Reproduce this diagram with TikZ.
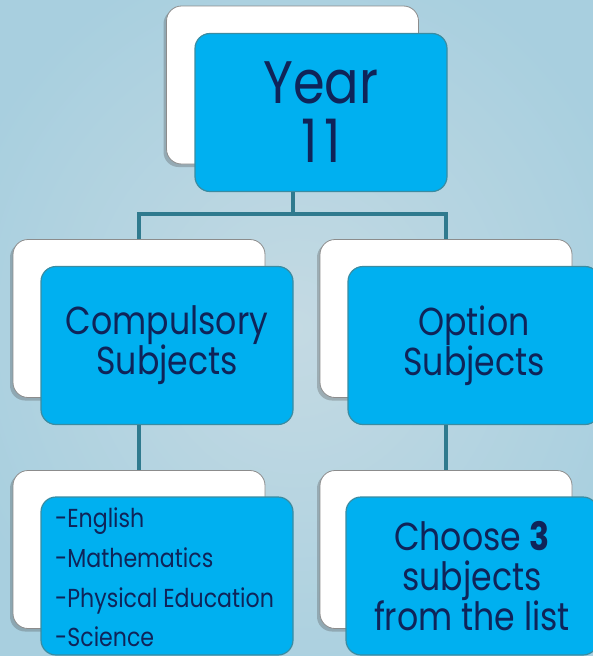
\documentclass[tikz,border=0pt]{standalone}
\usepackage{fontspec}
\setmainfont[FakeStretch=0.85]{Poppins}
\usetikzlibrary{shadows,calc}
\definecolor{bgin}{HTML}{C4DAE3}
\definecolor{bgout}{HTML}{A8CFDF}
\definecolor{boxblue}{HTML}{00B0F0}
\definecolor{boxline}{HTML}{3A8CA2}
\definecolor{conn}{HTML}{2F7A8E}
\definecolor{txt}{HTML}{0F2459}
\begin{document}
\begin{tikzpicture}[x=1pt,y=-1pt,
 back/.style={draw=black!45, fill=white, rounded corners=15pt, minimum width=252pt, minimum height=158pt, line width=0.8pt, inner sep=0pt,
   drop shadow={shadow xshift=-3pt, shadow yshift=-3pt, opacity=0.3, fill=black!70}},
 front/.style={draw=boxline, fill=boxblue, rounded corners=15pt, minimum width=252pt, minimum height=158pt, line width=1.2pt, text=txt, align=center, inner sep=0pt},
 link/.style={draw=conn, line width=4pt, line join=miter},
 big/.style={font=\fontsize{60}{59}\selectfont},
 mid/.style={font=\fontsize{39}{40}\selectfont},
 small/.style={font=\fontsize{26}{39.7}\selectfont}]
\useasboundingbox (0,0) rectangle (593,656);
\clip (0,0) rectangle (593,656);
\shade[inner color=bgin, outer color=bgout] (-60,-60) rectangle (653,716);
% top
\node[back] (yrw) at (292.5,85) {};
\node[front, big] (yr) at (321,112.5) {Year\\1\kern7pt1};
% middle
\node[back] (cw) at (139,318.5) {};
\node[front, mid] (c) at (167,345.5) {Compulsory\\Subjects};
\node[back] (ow) at (446,318.5) {};
\node[front, mid] (o) at (474,345.5) {Option\\Subjects};
% bottom
\node[back] (lw) at (139,549.5) {};
\node[front] (l) at (167,576) {};
\node[anchor=west, text=txt, align=left, small, inner sep=0pt] (list) at (55,577.5) {-English\\-Mathematics\\-Physical Education\\-Science};
\node[back] (rw) at (446,549.5) {};
\node[front, mid] (r) at (472,576) {Choose \textbf{3}\\subjects\\from the list};
% connectors
\coordinate (j) at (292.5,214);
\draw[link] (yrw.center |- yr.south) -- (j);
\draw[link] (cw.north) |- (j) -| (ow.north);
\draw[link] (cw.center |- c.south) -- (lw.north);
\draw[link] (ow.center |- o.south) -- (rw.north);
\end{tikzpicture}
\end{document}
